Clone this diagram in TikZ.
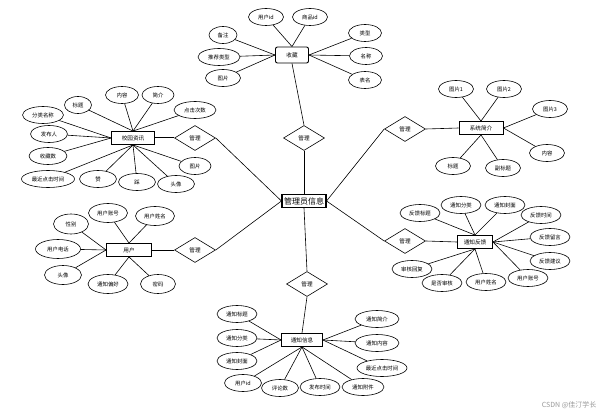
\documentclass[tikz,border=0pt]{standalone}
\usepackage{fontspec}
\newfontfamily\cjk{Noto Sans CJK SC}
\usetikzlibrary{shapes.geometric}
\tikzset{
  attr/.style={ellipse, draw, line width=0.6pt, inner sep=0pt, minimum width=#1, minimum height=17pt, font=\cjk\fontsize{5.4}{6}\selectfont},
  attr/.default=35pt,
  ent/.style={rectangle, draw, line width=0.9pt, inner sep=0pt, minimum width=#1, minimum height=13pt, font=\cjk\fontsize{5.6}{6}\selectfont},
  ent/.default=43pt,
  rel/.style={diamond, draw, line width=0.6pt, inner sep=0pt, minimum width=41pt, minimum height=25pt, font=\cjk\fontsize{5.6}{6}\selectfont},
  link/.style={line width=0.6pt},
}
\begin{document}
\begin{tikzpicture}[x=1pt,y=-1pt]
\useasboundingbox[fill=white] (0,0) rectangle (605,417);

% central entity
\node[rectangle, draw, line width=1.1pt, inner sep=0pt, minimum width=44pt, minimum height=13pt, font=\cjk\fontsize{8}{9}\selectfont] (c) at (304,201) {管理员信息};

% relations
\node[rel] (d1) at (304,138) {管理};
\node[rel] (d2) at (195,138) {管理};
\node[rel] (d3) at (195,250) {管理};
\node[rel] (d4) at (405,129) {管理};
\node[rel] (d5) at (405,241) {管理};
\node[rel] (d6) at (307,284) {管理};

% 收藏
\node[ent=33pt, minimum height=16pt, rounded corners=2pt] (sc) at (292,55) {收藏};
\node[attr] (sc1) at (266,17) {用户id};
\node[attr] (sc2) at (310,17) {商品id};
\node[attr=28pt] (sc3) at (223,35) {备注};
\node[attr=42pt] (sc4) at (219,57) {推荐类型};
\node[attr] (sc5) at (223,78) {图片};
\node[attr=33pt] (sc6) at (365,33) {类型};
\node[attr=33pt] (sc7) at (366,56) {名称};
\node[attr=33pt] (sc8) at (365,80) {表名};
\foreach \a in {sc1,sc2} \draw[link] (\a) -- (sc.north);
\foreach \a in {sc3,sc4,sc5} \draw[link] (\a) -- (sc.west);
\foreach \a in {sc6,sc7,sc8} \draw[link] (\a) -- (sc.east);

% 校园资讯
\node[ent] (xy) at (133,138) {校园资讯};
\node[attr=27pt] (xy1) at (78,105) {标题};
\node[attr=33pt] (xy2) at (122,95) {内容};
\node[attr=32pt] (xy3) at (158,95) {简介};
\node[attr=42pt] (xy4) at (195,110) {点击次数};
\node[attr=41pt] (xy5) at (43,115) {分类名称};
\node[attr=37pt] (xy6) at (49,134) {发布人};
\node[attr=38pt] (xy7) at (48,156) {收藏数};
\node[attr=53pt] (xy8) at (48,179) {最近点击时间};
\node[attr=37pt] (xy9) at (98,179) {赞};
\node[attr=37pt] (xy10) at (137,182) {踩};
\node[attr=37pt] (xy11) at (176,184) {头像};
\node[attr=32pt] (xy12) at (195,166) {图片};
\foreach \a in {xy1,xy2,xy3,xy4} \draw[link] (\a) -- (xy.north);
\foreach \a in {xy5,xy6,xy7} \draw[link] (\a) -- (xy.west);
\foreach \a in {xy8,xy9,xy10,xy11,xy12} \draw[link] (\a) -- (xy.south);

% 系统简介
\node[ent=44pt] (xt) at (481,128) {系统简介};
\node[attr] (xt1) at (456,89) {图片1};
\node[attr] (xt2) at (504,89) {图片2};
\node[attr] (xt3) at (550,109) {图片3};
\node[attr] (xt4) at (547,153) {内容};
\node[attr] (xt5) at (453,166) {标题};
\node[attr] (xt6) at (503,168) {副标题};
\foreach \a in {xt1,xt2} \draw[link] (\a) -- (xt.north);
\foreach \a in {xt3,xt4} \draw[link] (\a) -- (xt.east);
\foreach \a in {xt5,xt6} \draw[link] (\a) -- (xt.south);

% 用户
\node[ent=45pt] (yh) at (129,250) {用户};
\node[attr, minimum height=20pt] (yh1) at (71,224) {性别};
\node[attr=39pt, minimum height=19pt] (yh2) at (108,213) {用户账号};
\node[attr=39pt, minimum height=19pt] (yh3) at (155,216) {用户姓名};
\node[attr=45pt, minimum height=19pt] (yh4) at (58,249) {用户电话};
\node[attr=37pt, minimum height=19pt] (yh5) at (63,275) {头像};
\node[attr=40pt, minimum height=19pt] (yh6) at (108,284) {通知偏好};
\node[attr, minimum height=19pt] (yh7) at (158,284) {密码};
\foreach \a in {yh1,yh4,yh5} \draw[link] (\a) -- (yh.west);
\foreach \a in {yh2,yh3} \draw[link] (\a) -- (yh.north);
\foreach \a in {yh6,yh7} \draw[link] (\a) -- (yh.south);

% 通知反馈
\node[ent=35pt] (fk) at (475,242) {通知反馈};
\node[attr=40pt] (fk1) at (420,213) {反馈标题};
\node[attr=40pt] (fk2) at (461,205) {通知分类};
\node[attr=40pt] (fk3) at (505,205) {通知封面};
\node[attr=40pt] (fk4) at (541,215) {反馈时间};
\node[attr=40pt] (fk5) at (550,237) {反馈留言};
\node[attr=40pt] (fk6) at (550,261) {反馈建议};
\node[attr=40pt] (fk7) at (528,278) {用户账号};
\node[attr=40pt] (fk8) at (486,282) {用户姓名};
\node[attr=40pt] (fk9) at (442,283) {是否审核};
\node[attr=40pt] (fk10) at (412,269) {审核回复};
\foreach \a in {fk1,fk2,fk3} \draw[link] (\a) -- (fk.north);
\foreach \a in {fk4,fk5,fk6,fk7} \draw[link] (\a) -- (fk.east);
\foreach \a in {fk8,fk9,fk10} \draw[link] (\a) -- (fk.south);

% 通知信息
\node[ent=41pt] (tz) at (302,340) {通知信息};
\node[attr=40pt] (tz1) at (237,314) {通知标题};
\node[attr=40pt] (tz2) at (237,338) {通知分类};
\node[attr=40pt] (tz3) at (237,361) {通知封面};
\node[attr=37pt] (tz4) at (243,383) {用户id};
\node[attr=37pt] (tz5) at (280,388) {评论数};
\node[attr=40pt] (tz6) at (320,387) {发布时间};
\node[attr=42pt] (tz7) at (363,387) {通知附件};
\node[attr=44pt] (tz8) at (377,319) {通知简介};
\node[attr=44pt] (tz9) at (377,343) {通知内容};
\node[attr=50pt] (tz10) at (382,368) {最近点击时间};
\foreach \a in {tz1,tz2,tz3} \draw[link] (\a) -- (tz.west);
\foreach \a in {tz4,tz5,tz6,tz7} \draw[link] (\a) -- (tz.south);
\foreach \a in {tz8,tz9,tz10} \draw[link] (\a) -- (tz.east);

% relation links
\draw[link] (sc.south) -- (d1.north);
\draw[link] (d1.south) -- (c.north);
\draw[line width=1pt] (xy.east) -- (d2.west);
\draw[link] (d2.east) -- (c.west);
\draw[link] (yh.east) -- (d3.west);
\draw[link] (d3.east) -- (c.west);
\draw[link] (d4.east) -- (xt.west);
\draw[link] (d4.west) -- (c.east);
\draw[link] (d5.east) -- (fk.west);
\draw[link] (d5.west) -- (c.east);
\draw[link] (d6.north) -- (c.south);
\draw[link] (d6.south) -- (tz.north);

% watermark
\node[font=\cjk\fontsize{7}{8}\selectfont, text=black!40, anchor=east] (wm) at (600,405) {CSDN @佳汀学长};
\end{tikzpicture}
\end{document}
